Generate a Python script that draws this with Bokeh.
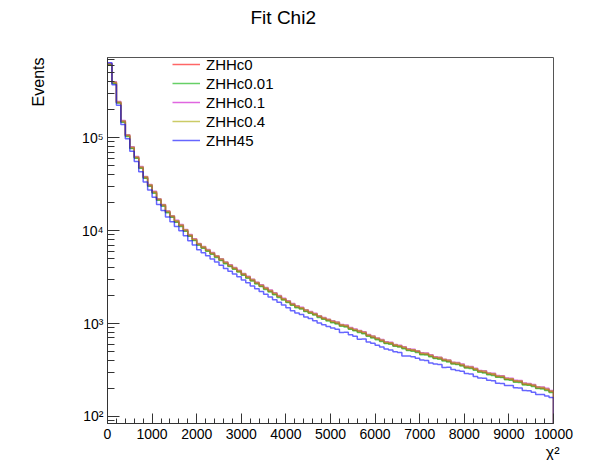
from bokeh.plotting import figure
from bokeh.models import Range1d, FixedTicker, Legend, LegendItem, Title
from bokeh.embed import file_html
from bokeh.resources import INLINE

# ---------------- data ----------------
bin_edges = list(range(0, 10001, 100))

zhhc0 = [
    617000, 389000, 238000, 148600, 104700, 77600, 61000, 47500, 37150, 30500,
    25700, 21500, 18600, 15850, 14100, 12500, 11300, 10000, 8830, 7940,
    7080, 6560, 6080, 5640, 5220, 4840, 4470, 4170, 3890, 3630,
    3360, 3130, 2910, 2710, 2535, 2370, 2220, 2075, 1940, 1815,
    1705, 1590, 1505, 1452, 1365, 1310, 1252, 1180, 1128, 1082,
    1040, 1008, 950, 934, 880, 848, 818, 790, 738, 712,
    680, 652, 618, 609, 578, 567, 546, 520, 512, 496,
    470, 466, 448, 426, 421, 402, 394, 372, 368, 356,
    337, 334, 320, 304, 300, 286, 282, 268, 266, 252,
    250, 238, 236, 222, 220, 214, 203, 201, 194, 184]

zhhc0_01 = [
    610000, 384000, 236000, 146500, 103000, 76500, 60100, 46800, 36600, 30000,
    25300, 21200, 18300, 15600, 13900, 12300, 11100, 9850, 8700, 7820,
    6970, 6460, 5990, 5560, 5140, 4770, 4400, 4110, 3830, 3580,
    3310, 3080, 2870, 2670, 2500, 2330, 2190, 2045, 1910, 1790,
    1680, 1570, 1480, 1430, 1345, 1290, 1235, 1165, 1110, 1068,
    1022, 990, 938, 918, 868, 838, 800, 775, 730, 700,
    668, 640, 610, 598, 570, 558, 536, 512, 502, 488,
    462, 458, 440, 420, 414, 396, 386, 368, 362, 350,
    332, 328, 314, 300, 294, 282, 276, 264, 262, 248,
    246, 234, 232, 218, 217, 210, 200, 198, 190, 181]

zhhc0_1 = [
    630000, 400000, 245000, 153000, 107800, 79900, 62800, 48900, 38300, 31400,
    26500, 22100, 19150, 16300, 14500, 12900, 11650, 10300, 9100, 8180,
    7290, 6760, 6260, 5810, 5380, 4990, 4600, 4300, 4010, 3740,
    3460, 3220, 3000, 2790, 2610, 2440, 2290, 2140, 2000, 1870,
    1755, 1640, 1550, 1495, 1405, 1350, 1290, 1215, 1165, 1115,
    1072, 1040, 978, 965, 905, 875, 842, 815, 760, 735,
    700, 672, 637, 628, 595, 585, 562, 536, 528, 511,
    484, 482, 462, 438, 435, 414, 406, 383, 380, 367,
    347, 345, 330, 313, 310, 294, 291, 276, 274, 260,
    258, 245, 244, 229, 227, 221, 209, 207, 201, 190]

zhhc0_4 = [
    625000, 396000, 242000, 151500, 106800, 79100, 62200, 48400, 37900, 31100,
    26200, 21900, 18950, 16150, 14380, 12750, 11520, 10200, 9000, 8100,
    7220, 6690, 6200, 5750, 5320, 4940, 4560, 4250, 3970, 3700,
    3430, 3190, 2970, 2760, 2590, 2420, 2265, 2115, 1980, 1850,
    1740, 1620, 1535, 1480, 1395, 1335, 1278, 1205, 1150, 1105,
    1060, 1030, 968, 952, 898, 865, 835, 805, 752, 728,
    694, 665, 630, 622, 590, 578, 557, 530, 522, 506,
    480, 476, 457, 434, 430, 410, 402, 380, 376, 363,
    344, 341, 327, 310, 306, 292, 288, 273, 271, 257,
    255, 243, 241, 226, 224, 218, 207, 205, 198, 188]

zhh45 = [
    640000, 372000, 224000, 139000, 97400, 71400, 55500, 43000, 33400, 27300,
    22900, 19100, 16500, 14050, 12500, 11050, 9980, 8830, 7790, 7000,
    6240, 5780, 5350, 4960, 4590, 4250, 3920, 3650, 3410, 3180,
    2940, 2740, 2540, 2370, 2210, 2070, 1935, 1805, 1690, 1580,
    1475, 1375, 1300, 1250, 1175, 1130, 1075, 1015, 970, 930,
    895, 868, 800, 805, 756, 730, 678, 680, 632, 612,
    585, 560, 532, 520, 496, 488, 448, 448, 440, 424,
    404, 400, 376, 367, 362, 336, 338, 320, 312, 306,
    290, 286, 270, 260, 258, 246, 242, 228, 226, 216,
    215, 204, 202, 190, 189, 182, 172, 172, 166, 160]

series_names = ["ZHHc0", "ZHHc0.01", "ZHHc0.1", "ZHHc0.4", "ZHH45"]
series_values = [zhhc0, zhhc0_01, zhhc0_1, zhhc0_4, zhh45]
series_colors = ["#ff0000", "#00b000", "#cc00cc", "#a8a800", "#0000ff"]

x_ticks = [0, 1000, 2000, 3000, 4000, 5000, 6000, 7000, 8000, 9000, 10000]
x_tick_labels = ["0", "1000", "2000", "3000", "4000", "5000", "6000", "7000", "8000", "9000", "10000"]
y_ticks = [100, 1000, 10000, 100000]
y_tick_labels = ["10\u00b2", "10\u00b3", "10\u2074", "10\u2075"]

title_text = "Fit Chi2"
x_title = "\u03c7\u00b2"
y_title = "Events"

# ---------------- figure ----------------
Y_MIN, Y_MAX = 84, 7.3e5
FONT = "Liberation Sans"

p = figure(width=589, height=460, y_axis_type="log",
           x_range=Range1d(0, 10000), y_range=Range1d(Y_MIN, Y_MAX),
           output_backend="svg", toolbar_location=None,
           min_border_left=107, min_border_right=36,
           min_border_top=57, min_border_bottom=36)
p.background_fill_color = "white"
p.border_fill_color = "white"
p.outline_line_color = "#555555"
p.outline_line_width = 1
p.xgrid.visible = False
p.ygrid.visible = False

# main title (trailing empty line lifts it away from the frame)
p.title.text = title_text + "\n"
p.title.align = "left"
p.title.offset = 143
p.title.standoff = 0
p.title.text_line_height = 1.4
p.title.text_font = FONT
p.title.text_font_size = "19px"
p.title.text_font_style = "normal"
p.title.text_color = "black"

renderers = []
for name, vals, col in zip(series_names, series_values, series_colors):
    ys = vals + [vals[-1]]
    r = p.step(x=bin_edges, y=ys, mode="after", line_color=col, line_width=1.5, line_alpha=0.6)
    p.segment(x0=[bin_edges[-1]], y0=[vals[-1]], x1=[bin_edges[-1]], y1=[Y_MIN],
              line_color=col, line_width=1.5, line_alpha=0.6)
    renderers.append(r)

# axes
x_minor = [v for v in range(0, 10001, 200) if v % 1000 != 0]
y_minor = []
for dec in [10, 100, 1000, 10000, 100000]:
    for m in range(2, 10):
        y_minor.append(m * dec)

xa = p.xaxis[0]
xa.ticker = FixedTicker(ticks=x_ticks, minor_ticks=x_minor)
xa.major_label_overrides = {t: l for t, l in zip(x_ticks, x_tick_labels)}
xa.major_tick_in = 10
xa.major_tick_out = 0
xa.minor_tick_in = 5
xa.minor_tick_out = 0
xa.major_label_standoff = 5

ya = p.yaxis[0]
ya.ticker = FixedTicker(ticks=y_ticks, minor_ticks=y_minor)
ya.major_label_overrides = {t: l for t, l in zip(y_ticks, y_tick_labels)}
ya.major_tick_in = 12
ya.major_tick_out = 0
ya.minor_tick_in = 7
ya.minor_tick_out = 0
ya.major_label_standoff = 4

for ax in (xa, ya):
    ax.axis_line_color = "#333333"
    ax.major_tick_line_color = "#333333"
    ax.minor_tick_line_color = "#333333"
    ax.major_label_text_font = FONT
    ax.major_label_text_font_size = "14px"
    ax.major_label_text_color = "black"

# axis titles as side-panel titles
p.add_layout(Title(text=y_title + "\n", align="right", standoff=30, text_font=FONT,
                   text_font_size="16px", text_font_style="normal", text_color="black"), "left")
p.add_layout(Title(text=x_title, align="right", standoff=0, offset=-6, text_font=FONT,
                   text_font_size="16px", text_font_style="normal", text_color="black"), "below")

# legend
legend = Legend(items=[LegendItem(label=n, renderers=[r]) for n, r in zip(series_names, renderers)],
                location=(65, 274))
legend.border_line_color = None
legend.background_fill_alpha = 0
legend.padding = 5
legend.margin = 0
legend.spacing = 1
legend.glyph_width = 28
legend.glyph_height = 18
legend.label_height = 18
legend.label_standoff = 6
legend.label_text_font = FONT
legend.label_text_font_size = "15px"
legend.label_text_color = "black"
p.add_layout(legend)

open("out.html", "w").write(file_html(p, INLINE))
